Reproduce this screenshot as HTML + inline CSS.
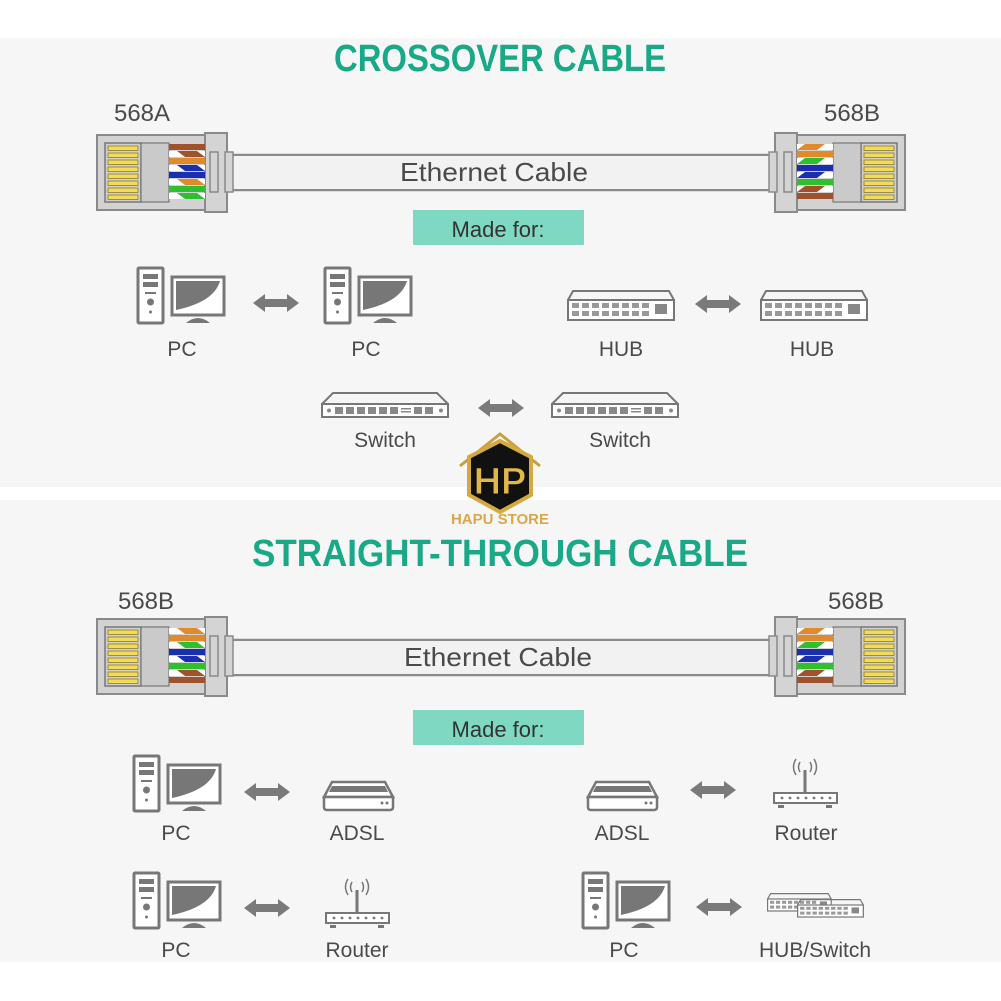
<!DOCTYPE html>
<html><head><meta charset="utf-8"><style>
html,body{margin:0;padding:0;background:#fff}
svg{display:block}
text{font-family:"Liberation Sans",sans-serif}
</style></head><body>
<svg width="1001" height="1001" viewBox="0 0 1001 1001" xmlns="http://www.w3.org/2000/svg">
<defs>
<g id="conn">
  <rect x="0" y="0" width="110" height="75" fill="#d2d2d2" stroke="#8a8a8a" stroke-width="2"/>
  <rect x="8" y="8" width="36" height="59" fill="#cfcfcf" stroke="#777" stroke-width="1.5"/>
  <g fill="#f2dc55" stroke="#8a7a30" stroke-width="0.8">
    <rect x="11" y="11" width="30" height="4.5"/><rect x="11" y="18" width="30" height="4.5"/>
    <rect x="11" y="25" width="30" height="4.5"/><rect x="11" y="32" width="30" height="4.5"/>
    <rect x="11" y="39" width="30" height="4.5"/><rect x="11" y="46" width="30" height="4.5"/>
    <rect x="11" y="53" width="30" height="4.5"/><rect x="11" y="60" width="30" height="4.5"/>
  </g>
  <rect x="44" y="8" width="28" height="59" fill="#cacaca" stroke="#777" stroke-width="1.2"/>
  <rect x="108" y="-2" width="22" height="79" fill="#d4d4d4" stroke="#8a8a8a" stroke-width="2"/>
  <rect x="113" y="17" width="8" height="40" fill="#d4d4d4" stroke="#8a8a8a" stroke-width="1.5"/>
  <rect x="128" y="17" width="8" height="40" fill="#d4d4d4" stroke="#8a8a8a" stroke-width="1.5"/>
</g>
<g id="wiresA">
  <rect x="0" y="0" width="36" height="6" fill="#a0522d"/>
  <rect x="0" y="7" width="36" height="6" fill="#fff"/><polygon points="8,7 28,7 36,13 16,13" fill="#a0522d"/>
  <rect x="0" y="14" width="36" height="6" fill="#e08a2e"/>
  <rect x="0" y="21" width="36" height="6" fill="#fff"/><polygon points="8,21 28,21 36,27 16,27" fill="#1a2fb0"/>
  <rect x="0" y="28" width="36" height="6" fill="#1a2fb0"/>
  <rect x="0" y="35" width="36" height="6" fill="#fff"/><polygon points="8,35 28,35 36,41 16,41" fill="#e08a2e"/>
  <rect x="0" y="42" width="36" height="6" fill="#2ec02e"/>
  <rect x="0" y="49" width="36" height="6" fill="#fff"/><polygon points="8,49 28,49 36,55 16,55" fill="#2ec02e"/>
</g>
<g id="wiresB">
  <rect x="0" y="0" width="36" height="6" fill="#fff"/><polygon points="8,0 28,0 36,6 16,6" fill="#e08a2e"/>
  <rect x="0" y="7" width="36" height="6" fill="#e08a2e"/>
  <rect x="0" y="14" width="36" height="6" fill="#fff"/><polygon points="8,14 28,14 36,20 16,20" fill="#2ec02e"/>
  <rect x="0" y="21" width="36" height="6" fill="#1a2fb0"/>
  <rect x="0" y="28" width="36" height="6" fill="#fff"/><polygon points="8,28 28,28 36,34 16,34" fill="#1a2fb0"/>
  <rect x="0" y="35" width="36" height="6" fill="#2ec02e"/>
  <rect x="0" y="42" width="36" height="6" fill="#fff"/><polygon points="8,42 28,42 36,48 16,48" fill="#a0522d"/>
  <rect x="0" y="49" width="36" height="6" fill="#a0522d"/>
</g>
<g id="pc" fill="#777">
  <rect x="0" y="0" width="25" height="55" rx="1" fill="#fff" stroke="#777" stroke-width="3"/>
  <rect x="5" y="6" width="15" height="5"/><rect x="5" y="14" width="15" height="5"/>
  <rect x="7" y="24" width="11" height="2"/>
  <circle cx="12.5" cy="34" r="3.5"/><circle cx="12.5" cy="44" r="1.5"/>
  <rect x="34" y="9" width="52" height="38" fill="#fff" stroke="#777" stroke-width="3"/>
  <path d="M38 13 H82 Q76 34 38 42 Z"/>
  <path d="M48 55 Q60 45 72 55 Z"/>
</g>
<polygon id="arr" fill="#7a7a7a" points="0,9 12,0 12,5 34,5 34,0 46,9 34,18 34,13 12,13 12,18"/>
<g id="sw" fill="none" stroke="#777" stroke-width="2">
  <path d="M1 12 L12 1 H116 L127 12"/>
  <rect x="1" y="12" width="126" height="13" fill="#fff"/>
  <g fill="#888" stroke="none">
    <circle cx="8" cy="18.5" r="2"/><circle cx="120" cy="18.5" r="2"/>
    <rect x="14" y="15" width="8" height="7"/><rect x="25" y="15" width="8" height="7"/><rect x="36" y="15" width="8" height="7"/><rect x="47" y="15" width="8" height="7"/><rect x="58" y="15" width="8" height="7"/><rect x="69" y="15" width="8" height="7"/>
    <rect x="80" y="16" width="10" height="1.5"/><rect x="80" y="19" width="10" height="1.5"/>
    <rect x="93" y="15" width="8" height="7"/><rect x="104" y="15" width="8" height="7"/>
  </g>
</g>
<g id="hub" fill="none" stroke="#777" stroke-width="2">
  <path d="M1 10 L6 1 H102 L107 10"/>
  <rect x="1" y="10" width="106" height="20" fill="#fff"/>
  <g fill="#999" stroke="none">
    <rect x="5" y="13" width="7" height="5"/><rect x="15" y="13" width="7" height="5"/><rect x="25" y="13" width="7" height="5"/><rect x="35" y="13" width="7" height="5"/><rect x="45" y="13" width="7" height="5"/><rect x="55" y="13" width="7" height="5"/><rect x="65" y="13" width="7" height="5"/><rect x="75" y="13" width="7" height="5"/>
    <rect x="5" y="21" width="7" height="5"/><rect x="15" y="21" width="7" height="5"/><rect x="25" y="21" width="7" height="5"/><rect x="35" y="21" width="7" height="5"/><rect x="45" y="21" width="7" height="5"/><rect x="55" y="21" width="7" height="5"/><rect x="65" y="21" width="7" height="5"/><rect x="75" y="21" width="7" height="5"/>
    <rect x="88" y="14" width="12" height="10" fill="#888"/>
  </g>
</g>
<g id="adsl" stroke="#777" stroke-width="2.5" fill="#fff">
  <path d="M2 18 L10 3 H63 L71 18 Z"/>
  <path d="M10 7 H63 L66 13 H7 Z" fill="#777" stroke="none"/>
  <path d="M2 18 H71 V28 Q71 31 68 31 H5 Q2 31 2 28 Z"/>
  <circle cx="60" cy="24" r="1.5" fill="#777" stroke="none"/><circle cx="65" cy="24" r="1.5" fill="#777" stroke="none"/>
</g>
<g id="router" fill="none" stroke="#777" stroke-width="2">
  <line x1="32" y1="12" x2="32" y2="35" stroke-width="3"/>
  <path d="M27 4 Q24 9 27 14 M37 4 Q40 9 37 14 M23 1 Q18 9 23 17 M41 1 Q46 9 41 17" stroke-width="1.5"/>
  <rect x="1" y="35" width="63" height="10" fill="#fff"/>
  <g fill="#777" stroke="none">
    <circle cx="9" cy="40" r="1.4"/><circle cx="17" cy="40" r="1.4"/><circle cx="25" cy="40" r="1.4"/><circle cx="33" cy="40" r="1.4"/><circle cx="41" cy="40" r="1.4"/><circle cx="49" cy="40" r="1.4"/><circle cx="57" cy="40" r="1.4"/>
    <rect x="5" y="47" width="6" height="3"/><rect x="53" y="47" width="6" height="3"/>
  </g>
</g>
<g id="hubsw">
  <g transform="translate(0,0) scale(0.6,0.6)"><use href="#hub"/></g>
  <g transform="translate(30,6) scale(0.62,0.6)"><use href="#hub"/></g>
</g>
</defs>

<rect x="0" y="38" width="1001" height="449" fill="#f6f6f6"/>
<rect x="0" y="500" width="1001" height="462" fill="#f6f6f6"/>

<g font-size="26" fill="#4a4a4a" text-anchor="middle">
<text x="500" y="71" font-size="38" font-weight="bold" fill="#1aa987" textLength="332" lengthAdjust="spacingAndGlyphs">CROSSOVER CABLE</text>
<text x="142" y="121" font-size="24">568A</text>
<text x="852" y="121" font-size="24">568B</text>

<line x1="230" y1="155" x2="772" y2="155" stroke="#8a8a8a" stroke-width="2.5"/>
<line x1="230" y1="190" x2="772" y2="190" stroke="#8a8a8a" stroke-width="2.5"/>
<rect x="230" y="156" width="542" height="33" fill="#f2f2f2"/>
<g transform="translate(97,135)"><use href="#conn"/><g transform="translate(72,9)"><use href="#wiresA"/></g></g>
<g transform="translate(905,135) scale(-1,1)"><use href="#conn"/><g transform="translate(72,9)"><use href="#wiresB"/></g></g>
<text x="494" y="181" textLength="188" lengthAdjust="spacingAndGlyphs">Ethernet Cable</text>

<rect x="413" y="210" width="171" height="35" fill="#7fd8c1"/>
<text x="498" y="237" font-size="22" fill="#333">Made for:</text>

<g transform="translate(138,268)"><use href="#pc"/></g>
<g transform="translate(253,294)"><use href="#arr"/></g>
<g transform="translate(325,268)"><use href="#pc"/></g>
<text x="182" y="356" font-size="21">PC</text>
<text x="366" y="356" font-size="21">PC</text>

<g transform="translate(567,290)"><use href="#hub"/></g>
<g transform="translate(695,295)"><use href="#arr"/></g>
<g transform="translate(760,290)"><use href="#hub"/></g>
<text x="621" y="356" font-size="21">HUB</text>
<text x="812" y="356" font-size="21">HUB</text>

<g transform="translate(321,392)"><use href="#sw"/></g>
<g transform="translate(478,399)"><use href="#arr"/></g>
<g transform="translate(551,392)"><use href="#sw"/></g>
<text x="385" y="447" font-size="21">Switch</text>
<text x="620" y="447" font-size="21">Switch</text>

<g>
  <path d="M460 466 L500 434 L540 466" fill="none" stroke="#c9a040" stroke-width="3"/>
  <polygon points="500,441 531,457 531,495 500,512 469,495 469,457" fill="#111" stroke="#d4aa40" stroke-width="4"/>
  <text x="500" y="494" font-size="38" font-weight="bold" fill="#e0b84a" stroke="#111" stroke-width="1">HP</text>
  <text x="500" y="524" font-size="15" font-weight="bold" fill="#d8a84a">HAPU STORE</text>
</g>

<text x="500" y="566" font-size="38" font-weight="bold" fill="#1aa987" textLength="496" lengthAdjust="spacingAndGlyphs">STRAIGHT-THROUGH CABLE</text>
<text x="146" y="609" font-size="24">568B</text>
<text x="856" y="609" font-size="24">568B</text>

<line x1="230" y1="640" x2="772" y2="640" stroke="#8a8a8a" stroke-width="2.5"/>
<line x1="230" y1="675" x2="772" y2="675" stroke="#8a8a8a" stroke-width="2.5"/>
<rect x="230" y="641" width="542" height="33" fill="#f2f2f2"/>
<g transform="translate(97,619)"><use href="#conn"/><g transform="translate(72,9)"><use href="#wiresB"/></g></g>
<g transform="translate(905,619) scale(-1,1)"><use href="#conn"/><g transform="translate(72,9)"><use href="#wiresB"/></g></g>
<text x="498" y="666" textLength="188" lengthAdjust="spacingAndGlyphs">Ethernet Cable</text>

<rect x="413" y="710" width="171" height="35" fill="#7fd8c1"/>
<text x="498" y="737" font-size="22" fill="#333">Made for:</text>

<g transform="translate(134,756)"><use href="#pc"/></g>
<g transform="translate(244,783)"><use href="#arr"/></g>
<g transform="translate(322,779)"><use href="#adsl"/></g>
<text x="176" y="840" font-size="21">PC</text>
<text x="357" y="840" font-size="21">ADSL</text>

<g transform="translate(586,779)"><use href="#adsl"/></g>
<g transform="translate(690,781)"><use href="#arr"/></g>
<g transform="translate(773,758)"><use href="#router"/></g>
<text x="622" y="840" font-size="21">ADSL</text>
<text x="806" y="840" font-size="21">Router</text>

<g transform="translate(134,873)"><use href="#pc"/></g>
<g transform="translate(244,899)"><use href="#arr"/></g>
<g transform="translate(325,878)"><use href="#router"/></g>
<text x="176" y="957" font-size="21">PC</text>
<text x="357" y="957" font-size="21">Router</text>

<g transform="translate(583,873)"><use href="#pc"/></g>
<g transform="translate(696,898)"><use href="#arr"/></g>
<g transform="translate(767,893)"><use href="#hubsw"/></g>
<text x="624" y="957" font-size="21">PC</text>
<text x="815" y="957" font-size="21">HUB/Switch</text>
</g>
</svg>
</body></html>
